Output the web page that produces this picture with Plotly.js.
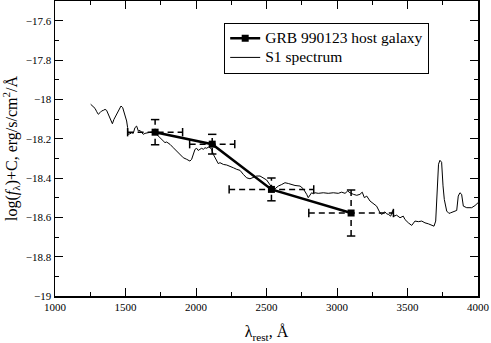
<!DOCTYPE html>
<html>
<head>
<meta charset="utf-8">
<script src="https://cdn.plot.ly/plotly-3.0.1.min.js"></script>
<style>
  body { margin: 0; background: #fff; }
  #chart { width: 491px; height: 343px; }
</style>
</head>
<body>
<div id="chart"></div>
<script>
// GRB 990123 host galaxy photometry (rest frame) vs S1 template spectrum

const grbX    = [1710, 2115, 2535, 3100];
const grbY    = [-18.167, -18.228, -18.458, -18.578];
const grbXerr = [195, 160, 300, 300];
const grbYerr = [0.064, 0.05, 0.058, 0.117];

const specX = [
  1253, 1272, 1284, 1296, 1307, 1319, 1331, 1343, 1355, 1366, 1378, 1395, 1407, 1418,
  1437, 1454, 1468, 1480, 1496, 1508, 1515, 1518, 1532, 1544, 1555, 1567, 1579, 1591,
  1603, 1615, 1626, 1638, 1662, 1686, 1709, 1733, 1757, 1768, 1780, 1792, 1816, 1839,
  1863, 1887, 1910, 1934, 1957, 1969, 1981, 1993, 2005, 2016, 2028, 2040, 2052, 2064,
  2076, 2087, 2099, 2111, 2123, 2135, 2147, 2158, 2170, 2194, 2218, 2241, 2265, 2289,
  2312, 2336, 2359, 2383, 2406, 2430, 2454, 2477, 2501, 2525, 2545, 2560, 2584, 2608,
  2631, 2655, 2679, 2702, 2738, 2761, 2785, 2796, 2820, 2832, 2844, 2867, 2903, 2938,
  2974, 3009, 3033, 3057, 3076, 3092, 3116, 3140, 3163, 3179, 3194, 3211, 3234, 3258,
  3281, 3305, 3317, 3340, 3352, 3364, 3381, 3395, 3404, 3423, 3447, 3470, 3482, 3506,
  3530, 3553, 3577, 3601, 3624, 3648, 3672, 3688, 3700, 3711, 3720, 3730, 3742, 3752,
  3761, 3778, 3794, 3806, 3825, 3849, 3860, 3872, 3884, 3896, 3920, 3955, 3979, 4000
];
const specY = [
  -18.025, -18.039, -18.046, -18.063, -18.076, -18.068, -18.059, -18.056, -18.051, -18.056,
  -18.076, -18.110, -18.124, -18.102, -18.073, -18.051, -18.034, -18.042, -18.076, -18.110,
  -18.144, -18.178, -18.175, -18.170, -18.173, -18.144, -18.136, -18.161, -18.158, -18.170,
  -18.178, -18.173, -18.170, -18.166, -18.170, -18.187, -18.204, -18.212, -18.220, -18.217,
  -18.229, -18.246, -18.263, -18.283, -18.297, -18.305, -18.314, -18.305, -18.280, -18.254,
  -18.249, -18.260, -18.254, -18.249, -18.254, -18.246, -18.249, -18.243, -18.246, -18.254,
  -18.280, -18.297, -18.314, -18.327, -18.322, -18.331, -18.334, -18.339, -18.348, -18.356,
  -18.361, -18.382, -18.399, -18.404, -18.399, -18.390, -18.390, -18.399, -18.410, -18.435,
  -18.455, -18.455, -18.441, -18.433, -18.424, -18.428, -18.433, -18.438, -18.441, -18.455,
  -18.483, -18.500, -18.475, -18.480, -18.475, -18.478, -18.475, -18.478, -18.475, -18.478,
  -18.472, -18.478, -18.466, -18.475, -18.483, -18.488, -18.483, -18.472, -18.500, -18.492,
  -18.517, -18.529, -18.543, -18.577, -18.585, -18.572, -18.582, -18.585, -18.594, -18.565,
  -18.594, -18.589, -18.602, -18.594, -18.611, -18.628, -18.641, -18.619, -18.622, -18.619,
  -18.628, -18.633, -18.640, -18.645, -18.619, -18.480, -18.330, -18.310, -18.320, -18.440,
  -18.509, -18.568, -18.580, -18.577, -18.572, -18.565, -18.492, -18.475, -18.483, -18.543,
  -18.551, -18.551, -18.540, -18.526
];

const FONT = '"Liberation Serif", "Times New Roman", serif';

// dashed error bars drawn as plain segments, plus small solid caps at the ends
const exX = [], exY = [], eyX = [], eyY = [];
const capVx = [], capVy = [], capHx = [], capHy = [];
grbX.forEach((x, i) => {
  const y = grbY[i];
  exX.push(x - grbXerr[i], x + grbXerr[i], null);
  exY.push(y, y, null);
  eyX.push(x, x, null);
  eyY.push(y - grbYerr[i], y + grbYerr[i], null);
  capVx.push(x - grbXerr[i], x + grbXerr[i]);
  capVy.push(y, y);
  capHx.push(x, x);
  capHy.push(y - grbYerr[i], y + grbYerr[i]);
});

const dashLine = { color: 'black', width: 1.5, dash: '6px,4px' };
// legend text is bigger than the legend font so the rows stay tight
const big = s => '<span style="font-size:15.5px">' + s + '</span>';

const data = [
  { x: specX, y: specY, type: 'scatter', mode: 'lines', name: big('S1 spectrum'),
    line: { color: 'black', width: 1 }, legendrank: 2 },
  { x: exX, y: exY, type: 'scatter', mode: 'lines', line: dashLine,
    showlegend: false, hoverinfo: 'skip' },
  { x: eyX, y: eyY, type: 'scatter', mode: 'lines', line: dashLine,
    showlegend: false, hoverinfo: 'skip' },
  { x: capVx, y: capVy, type: 'scatter', mode: 'markers', showlegend: false, hoverinfo: 'skip',
    marker: { symbol: 'line-ns', size: 6, line: { color: 'black', width: 1.5 } } },
  { x: capHx, y: capHy, type: 'scatter', mode: 'markers', showlegend: false, hoverinfo: 'skip',
    marker: { symbol: 'line-ew', size: 6, line: { color: 'black', width: 1.5 } } },
  { x: grbX, y: grbY, type: 'scatter', mode: 'lines+markers', name: big('GRB 990123 host galaxy'),
    line: { color: 'black', width: 2.5 },
    marker: { symbol: 'square', size: 7, color: 'black' }, legendrank: 1 }
];

const axisCommon = {
  showgrid: false, zeroline: false, showline: true, linecolor: 'black', linewidth: 1.5,
  mirror: 'allticks', ticks: 'inside', ticklen: 8, tickwidth: 1, tickcolor: 'black',
  tickfont: { family: FONT, size: 11, color: 'black' }
};

const layout = {
  width: 491, height: 343,
  margin: { l: 55, r: 13, t: 1, b: 47 },
  paper_bgcolor: 'white', plot_bgcolor: 'white',
  font: { family: FONT, color: 'black' },
  showlegend: true,
  xaxis: Object.assign({}, axisCommon, {
    range: [1000, 4000], tick0: 1000, dtick: 500,
    minor: { dtick: 250, ticks: 'inside', ticklen: 4, tickcolor: 'black', showgrid: false },
    title: { text: 'λ<sub>rest</sub>, Å', font: { family: FONT, size: 16 }, standoff: 14 }
  }),
  yaxis: Object.assign({}, axisCommon, {
    range: [-19, -17.5], tick0: -19, dtick: 0.2,
    minor: { dtick: 0.1, ticks: 'inside', ticklen: 4, tickcolor: 'black', showgrid: false },
    tickformat: '.1~f',
    title: { text: 'log(<i>f</i><sub>λ</sub>)+C, erg/s/cm<sup>2</sup>/Å',
             font: { family: FONT, size: 16 }, standoff: 6 }
  }),
  legend: {
    x: 0.4, y: 0.927, xanchor: 'left', yanchor: 'top',
    bgcolor: 'white', bordercolor: 'black', borderwidth: 1,
    font: { family: FONT, size: 12.5, color: 'black' },
    itemwidth: 30, tracegroupgap: 0
  }
};

Plotly.newPlot('chart', data, layout, { displayModeBar: false, staticPlot: true });
</script>
</body>
</html>
